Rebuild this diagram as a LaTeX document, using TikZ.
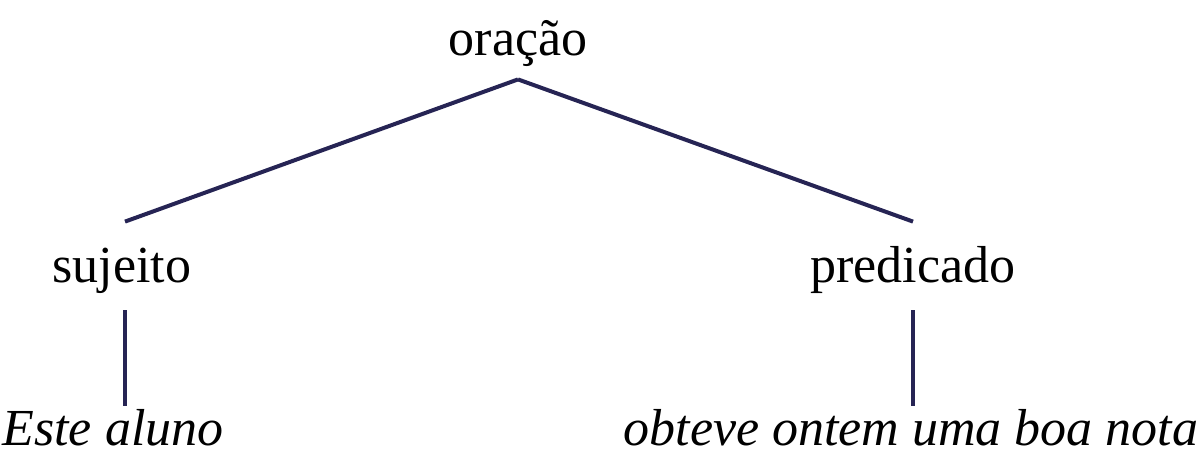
\documentclass[tikz,border=0pt]{standalone}
\usepackage{fontspec}
\setmainfont{Liberation Serif}
\definecolor{ramo}{RGB}{38,36,84}
\tikzset{
    termo/.style={inner sep=0pt, anchor=base, font=\fontsize{26}{30}\selectfont, text height=18pt, text depth=6.5pt},
    frase/.style={termo, font=\fontsize{26}{30}\selectfont\itshape},
    ramo/.style={draw=ramo, line width=2pt}
}
\begin{document}
\begin{tikzpicture}[x=0.5pt, y=-0.5pt]
    \useasboundingbox (0, 0) rectangle (1204, 456);

    % Nós
    \node[termo] (oracao) at (518, 55) {oração};
    \node[termo] (sujeito) at (122, 282) {sujeito};
    \node[termo] (predicado) at (913, 282) {predicado};
    \node[frase] (este) at (113, 445) {Este aluno};
    \node[frase] (obteve) at (911, 445) {obteve ontem uma boa nota};

    % Pontas dos ramos
    \coordinate (topo) at ([yshift=-5.5pt]oracao.south);
    \coordinate (fimsuj) at ([xshift=1.5pt, yshift=12pt]sujeito.north);
    \coordinate (fimpred) at ([yshift=12pt]predicado.north);

    % Ramos
    \draw[ramo] (topo) -- (fimsuj);
    \draw[ramo] (topo) -- (fimpred);
    \draw[ramo, shorten <=7.5pt, shorten >=1.5pt] (sujeito.south -| fimsuj) -- (este.north -| fimsuj);
    \draw[ramo, shorten <=7.5pt, shorten >=1.5pt] (predicado.south) -- (predicado.south |- obteve.north);
\end{tikzpicture}
\end{document}
